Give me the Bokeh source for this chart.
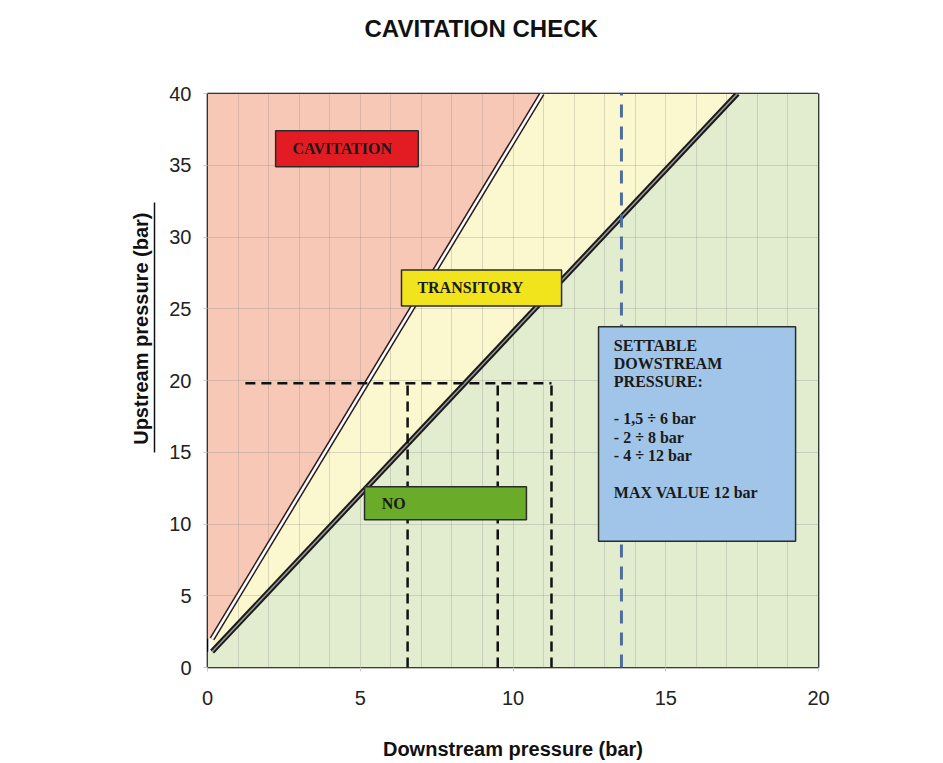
from bokeh.plotting import figure
from bokeh.models import FixedTicker, LinearAxis, Title
from bokeh.core.properties import value
from bokeh.embed import file_html
from bokeh.resources import INLINE

# ---- data ----
x_ticks = [0, 5, 10, 15, 20]
y_ticks = [0, 5, 10, 15, 20, 25, 30, 35, 40]
x_grid = list(range(0, 21))

cav_line_x = [0.15, 10.95]
cav_line_y = [2.0, 40.0]
no_line_x = [0.15, 17.35]
no_line_y = [1.1, 40.0]

red_zone_x = [0.0, 0.0, 10.95, 0.15]
red_zone_y = [2.0, 40.0, 40.0, 2.0]
yellow_zone_x = [0.15, 10.95, 17.35, 0.15]
yellow_zone_y = [2.0, 40.0, 40.0, 1.1]
green_zone_x = [0.0, 20.0, 20.0, 17.35, 0.15, 0.0]
green_zone_y = [0.0, 0.0, 40.0, 40.0, 1.1, 1.1]

example_upstream = 19.8
example_h_x = [1.24, 11.26]
example_v_x = [6.55, 9.5, 11.26]

settable_max_x = 13.55

box_names = ["CAVITATION", "TRANSITORY", "NO"]
box_left = [2.23, 6.35, 5.14]
box_right = [6.9, 11.59, 10.44]
box_bottom = [34.9, 25.2, 10.3]
box_top = [37.4, 27.7, 12.6]
box_colors = ["#e31c23", "#f2e41c", "#6aab2a"]
box_text_x = [2.78, 6.87, 5.7]
box_text_y = [36.2, 26.45, 11.4]

info_left, info_right, info_bottom, info_top = 12.8, 19.25, 8.8, 23.75
info_text = ("SETTABLE\nDOWSTREAM\nPRESSURE:\n\n- 1,5 \u00f7 6 bar\n- 2 \u00f7 8 bar\n"
             "- 4 \u00f7 12 bar\n\nMAX VALUE 12 bar")
info_text_x = 13.3
info_text_y = 23.05

underline_span = (15.0, 32.4)

# ---- figure ----
p = figure(width=933, height=762, x_range=(0, 20), y_range=(0, 40),
           output_backend="svg", toolbar_location=None,
           min_border_left=207, min_border_right=115,
           min_border_top=93, min_border_bottom=93)

xax = p.below[0]
yax = p.left[0]
xax.ticker = FixedTicker(ticks=x_ticks)
yax.ticker = FixedTicker(ticks=y_ticks)
p.xgrid.ticker = FixedTicker(ticks=x_grid)
p.ygrid.ticker = FixedTicker(ticks=y_ticks)

for ax in (xax, yax):
    ax.axis_line_color = None
    ax.minor_tick_line_color = None
    ax.major_tick_line_color = "#c8c8c8"
    ax.major_tick_in = 0
    ax.major_tick_out = 4
    ax.major_label_text_font = "Liberation Sans"
    ax.major_label_text_font_size = "20px"
    ax.major_label_text_color = "#222222"
    ax.axis_label_text_font = "Liberation Sans"
    ax.axis_label_text_font_size = "20px"
    ax.axis_label_text_font_style = "bold"
    ax.axis_label_text_color = "#111111"

xax.axis_label = "Downstream pressure (bar)"
xax.major_label_standoff = 19
xax.axis_label_standoff = 30
yax.major_label_standoff = 12

p.title.text = "CAVITATION CHECK"
p.title.align = "left"
p.title.vertical_align = "bottom"
p.title.offset = 157
p.title.standoff = 10
p.title.text_font = "Liberation Sans"
p.title.text_font_size = "24px"
p.title.text_font_style = "bold"
p.title.text_color = "#111111"

p.outline_line_color = "black"
p.outline_line_width = 1.6
p.background_fill_color = "white"


def blank_spacer(tick, length):
    return LinearAxis(ticker=FixedTicker(ticks=[tick]), axis_line_color=None,
                      major_tick_line_color="white", minor_tick_line_color=None,
                      major_tick_in=0, major_tick_out=length, minor_tick_out=0,
                      major_label_overrides={tick: ""}, major_label_standoff=0,
                      major_label_text_font_size="1px",
                      major_label_text_color=None)


# spacer between the frame and the title
p.add_layout(blank_spacer(20, 47), "above")

# spacer between tick labels and the underlined y title
p.add_layout(blank_spacer(40, 12), "left")

# underline of the y title (axis line limited by bounds)
underline = LinearAxis(ticker=FixedTicker(ticks=[]), bounds=underline_span,
                       axis_line_color="#111111", axis_line_width=1.5,
                       major_tick_line_color=None, minor_tick_line_color=None,
                       major_tick_in=0, major_tick_out=0, minor_tick_out=0)
p.add_layout(underline, "left")

ytitle = Title(text="Upstream pressure (bar)", align="right", offset=119,
               vertical_align="bottom", standoff=6,
               text_font="Liberation Sans", text_font_size="20px",
               text_font_style="bold", text_color="#111111")
p.add_layout(ytitle, "left")

for g in (p.xgrid, p.ygrid):
    g.grid_line_color = "#8a8a8a"
    g.grid_line_alpha = 0.3
    g.grid_line_width = 1

# zones
p.patch(red_zone_x, red_zone_y, fill_color="#f8c8b6", line_color=None, level="image")
p.patch(yellow_zone_x, yellow_zone_y, fill_color="#fbf7cf", line_color=None, level="image")
p.patch(green_zone_x, green_zone_y, fill_color="#e2edd0", line_color=None, level="image")

# boundary double lines
p.line(cav_line_x, cav_line_y, line_width=5.5, line_color="#2a1a1e")
p.line(cav_line_x, cav_line_y, line_width=2.5, line_color="white")
p.line(no_line_x, no_line_y, line_width=5.5, line_color="#1a1a1a")
p.line(no_line_x, no_line_y, line_width=1.5, line_color="#9a9a9a")

# example dashed lines
p.line(example_h_x, [example_upstream, example_upstream], line_width=2.5,
       line_color="#111111", line_dash="10 6")
for vx in example_v_x:
    p.line([vx, vx], [0, example_upstream], line_width=2.5,
           line_color="#111111", line_dash="10 6")

# settable limit
p.line([settable_max_x, settable_max_x], [0, 40], line_width=3,
       line_color="#4d6f9c", line_dash="13 9")

# zone label boxes
p.quad(left=box_left, right=box_right, bottom=box_bottom, top=box_top,
       fill_color=box_colors, line_color="#2b2b2b", line_width=1.5)
p.text(x=box_text_x, y=box_text_y, text=box_names,
       text_font=value("Liberation Serif"), text_font_style="bold",
       text_font_size="16px", text_color="#1a1a1a",
       text_align="left", text_baseline="middle")

# info box
p.quad(left=[info_left], right=[info_right], bottom=[info_bottom], top=[info_top],
       fill_color="#a0c5e8", line_color="#2b2b2b", line_width=1.5)
p.text(x=[info_text_x], y=[info_text_y], text=[info_text],
       text_font=value("Liberation Serif"), text_font_style="bold",
       text_font_size="16px", text_color="#1a1a1a", text_line_height=1.08,
       text_align="left", text_baseline="top")

open("out.html", "w").write(file_html(p, INLINE))
